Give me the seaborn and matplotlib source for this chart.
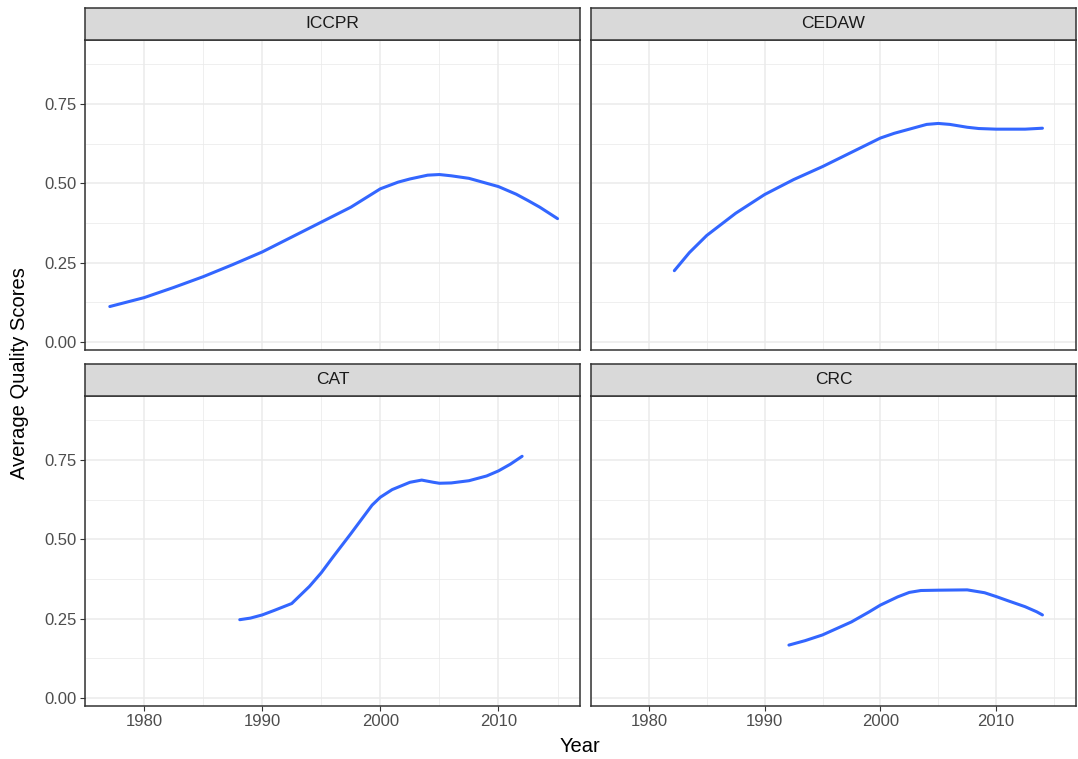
import numpy as np
import pandas as pd
import matplotlib
matplotlib.use("Agg")
import matplotlib.pyplot as plt
import seaborn as sns

treaties = ["ICCPR", "CEDAW", "CAT", "CRC"]

iccpr_year = [1977.1, 1980, 1982.5, 1985, 1987.5, 1990, 1992.5, 1995, 1997.5, 2000, 2001.5,
              2002.5, 2004, 2005, 2006, 2007.5, 2010, 2011.5, 2012.5, 2013.5, 2015]
iccpr_score = [0.112, 0.140, 0.172, 0.206, 0.244, 0.284, 0.331, 0.378, 0.425, 0.483, 0.504,
               0.514, 0.526, 0.528, 0.524, 0.516, 0.490, 0.466, 0.446, 0.425, 0.389]

cedaw_year = [1982.2, 1983.5, 1985, 1987.5, 1990, 1992.5, 1995, 1997.5, 2000, 2001.2,
              2002.5, 2004, 2005, 2006, 2007.5, 2008.5, 2010, 2012.5, 2014]
cedaw_score = [0.225, 0.282, 0.336, 0.406, 0.465, 0.512, 0.553, 0.598, 0.643, 0.658,
               0.671, 0.686, 0.689, 0.686, 0.677, 0.673, 0.671, 0.671, 0.674]

cat_year = [1988.1, 1989, 1990, 1991, 1992.5, 1994, 1995, 1996, 1997.5, 1998.5, 1999.3, 2000,
            2001, 2002.5, 2003.5, 2004.5, 2005, 2006, 2007.5, 2009, 2010, 2011, 2012]
cat_score = [0.247, 0.252, 0.262, 0.276, 0.298, 0.352, 0.395, 0.445, 0.518, 0.568, 0.608, 0.633,
             0.657, 0.680, 0.687, 0.680, 0.677, 0.678, 0.685, 0.700, 0.716, 0.737, 0.762]

crc_year = [1992.1, 1993.5, 1995, 1997.5, 1999, 2000, 2001.5, 2002.5, 2003.5, 2005, 2007.5,
            2009, 2010, 2011, 2012.5, 2013.5, 2014]
crc_score = [0.167, 0.181, 0.199, 0.240, 0.271, 0.293, 0.319, 0.333, 0.339, 0.340, 0.341,
             0.332, 0.320, 0.307, 0.288, 0.272, 0.262]

x_ticks = [1980, 1990, 2000, 2010]
y_ticks = [0.00, 0.25, 0.50, 0.75]
y_tick_labels = ["0.00", "0.25", "0.50", "0.75"]

df = pd.concat([
    pd.DataFrame({"Year": iccpr_year, "Score": iccpr_score, "Treaty": "ICCPR"}),
    pd.DataFrame({"Year": cedaw_year, "Score": cedaw_score, "Treaty": "CEDAW"}),
    pd.DataFrame({"Year": cat_year, "Score": cat_score, "Treaty": "CAT"}),
    pd.DataFrame({"Year": crc_year, "Score": crc_score, "Treaty": "CRC"}),
])

sns.set_style("white")
plt.rcParams["font.family"] = ["Liberation Sans", "DejaVu Sans"]

W, H = 1078, 759
g = sns.FacetGrid(df, col="Treaty", col_order=treaties, col_wrap=2, sharex=True, sharey=True)
g.map_dataframe(sns.lineplot, x="Year", y="Score", color="#3366FF", linewidth=2.2)
fig = g.figure
fig.set_size_inches(W / 100, H / 100)
fig.set_dpi(100)

panels = [(85, 40, 580, 350), (591, 40, 1076, 350), (85, 396, 580, 706), (591, 396, 1076, 706)]
strip_h = 32
grey20 = "#333333"
for i, (name, ax) in enumerate(zip(treaties, g.axes.flat)):
    l, t, r, b = panels[i]
    ax.set_position([l / W, 1 - b / H, (r - l) / W, (b - t) / H])
    ax.set_xlim(1975.1, 2016.9)
    ax.set_ylim(-0.025, 0.952)
    ax.set_xticks(x_ticks)
    ax.set_xticks([1975, 1985, 1995, 2005, 2015], minor=True)
    ax.set_yticks(y_ticks)
    ax.set_yticks([0.125, 0.375, 0.625, 0.875], minor=True)
    ax.grid(True, which="major", color="#EBEBEB", linewidth=1.1)
    ax.grid(True, which="minor", color="#EBEBEB", linewidth=0.55)
    ax.set_axisbelow(True)
    for s in ax.spines.values():
        s.set_color(grey20)
        s.set_linewidth(1.1)
        s.set_visible(True)
    ax.set_title("")
    ax.set_xlabel("")
    ax.set_ylabel("")
    col = i % 2
    row = i // 2
    ax.tick_params(axis="both", which="major", length=3.5, width=0.8, color=grey20,
                   labelsize=12, labelcolor="#4D4D4D", pad=2.5,
                   left=(col == 0), bottom=(row == 1),
                   labelleft=(col == 0), labelbottom=(row == 1))
    ax.tick_params(axis="both", which="minor", length=0)
    if col == 0:
        ax.set_yticklabels(y_tick_labels)
    sax = fig.add_axes([l / W, 1 - t / H, (r - l) / W, strip_h / H])
    sax.set_xticks([])
    sax.set_yticks([])
    sax.set_facecolor("#D9D9D9")
    for s in sax.spines.values():
        s.set_color(grey20)
        s.set_linewidth(1.1)
    sax.text(0.5, 0.5, name, ha="center", va="center", fontsize=12.5, color="#1A1A1A",
             transform=sax.transAxes)

fig.text(580 / W, 1 - 746 / H, "Year", ha="center", va="center", fontsize=14.5, color="black")
fig.text(20 / W, 1 - 373 / H, "Average Quality Scores", ha="center", va="center",
         rotation=90, fontsize=14.5, color="black")

fig.savefig("out.png", dpi=100, facecolor="white")
